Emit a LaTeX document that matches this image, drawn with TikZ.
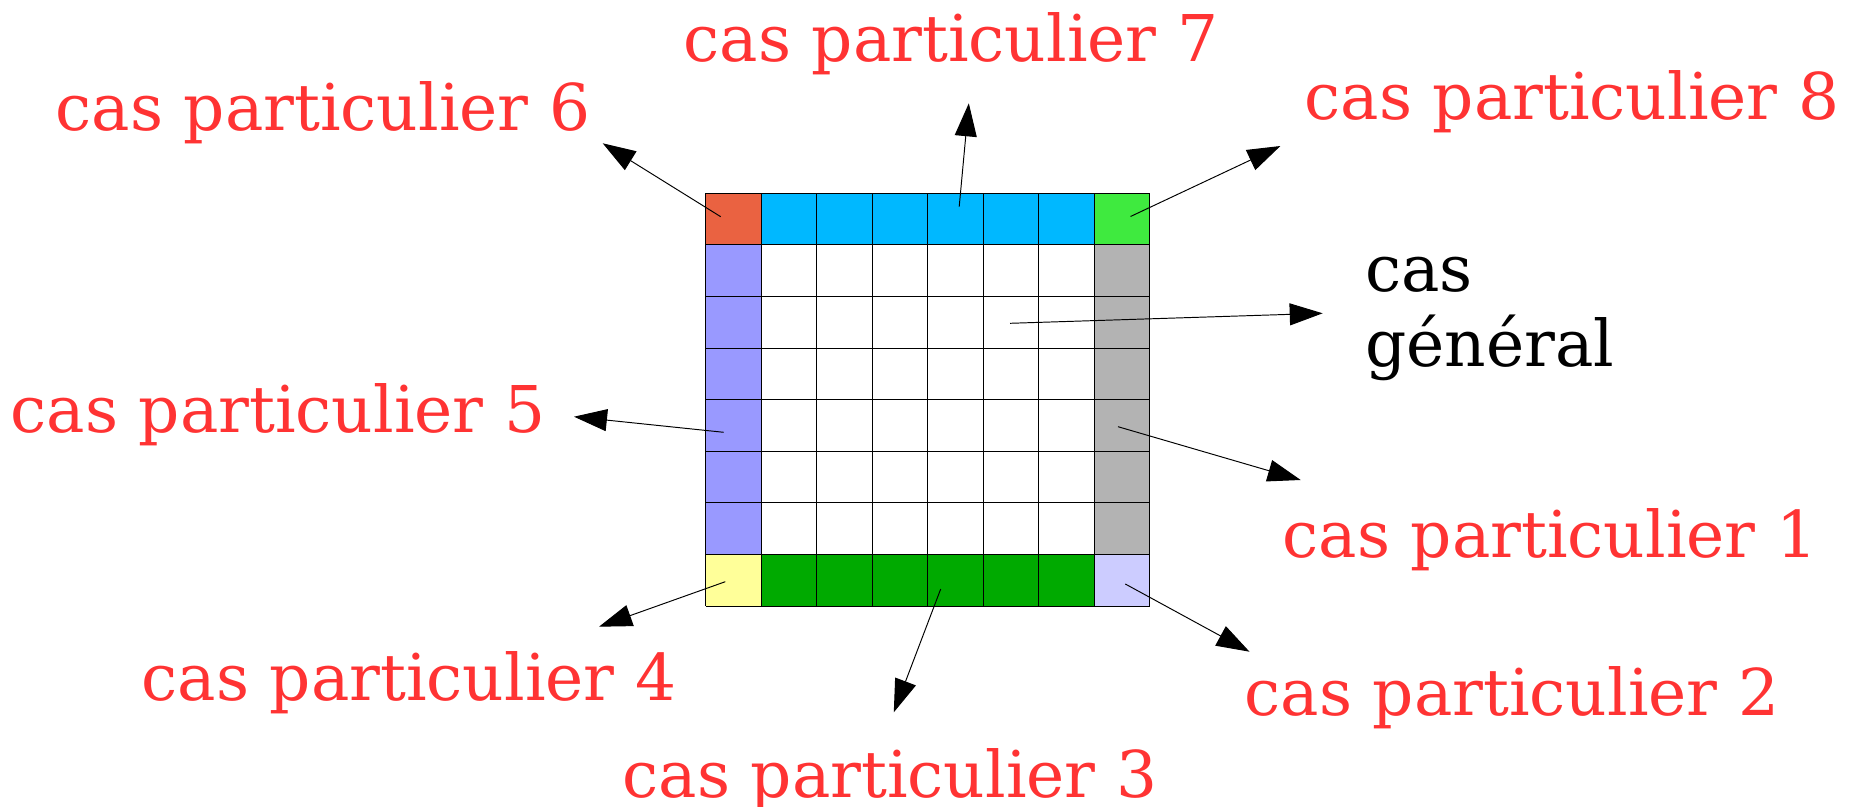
\documentclass[tikz,border=0pt]{standalone}
\usepackage{fontspec}
\setmainfont{DejaVu Serif}
\usetikzlibrary{arrows.meta}

\definecolor{rougecas}{HTML}{FF3333}
\definecolor{coinno}{HTML}{EA6241}
\definecolor{haut}{HTML}{00B8FF}
\definecolor{coinne}{HTML}{3FEA3F}
\definecolor{gauche}{HTML}{9999FF}
\definecolor{droite}{HTML}{B3B3B3}
\definecolor{coinso}{HTML}{FFFF99}
\definecolor{bas}{HTML}{00AA00}
\definecolor{coinse}{HTML}{CCCCFF}

\begin{document}
\begin{tikzpicture}[
  x=0.02cm, y=-0.02cm,
  casp/.style={text=rougecas, inner sep=0pt, anchor=base, font=\fontsize{36.7}{42.7}\selectfont},
  casg/.style={inner sep=0pt, anchor=base west, align=left, font=\fontsize{36.7}{42.7}\selectfont},
  trait/.style={draw=black, line width=0.5pt},
  fleche/.style={-{Triangle[length=0.66cm, width=0.44cm]}, line width=0.55pt}
]
  \useasboundingbox (0,0) rectangle (1849,807);

  % les bords colores
  \fill[coinno] (705.7,193.3) rectangle (761.2,244.9);
  \fill[haut]   (761.2,193.3) rectangle (1094.2,244.9);
  \fill[coinne] (1094.2,193.3) rectangle (1149.7,244.9);
  \fill[gauche] (705.7,244.9) rectangle (761.2,554.5);
  \fill[droite] (1094.2,244.9) rectangle (1149.7,554.5);
  \fill[coinso] (705.7,554.5) rectangle (761.2,606.1);
  \fill[bas]    (761.2,554.5) rectangle (1094.2,606.1);
  \fill[coinse] (1094.2,554.5) rectangle (1149.7,606.1);

  % la grille 8x8
  \foreach \i in {0,...,8} {
    \draw[trait] ({705.7+55.5*\i},193.3) -- ({705.7+55.5*\i},606.1);
    \draw[trait] (705.7,{193.3+51.6*\i}) -- (1149.7,{193.3+51.6*\i});
  }

  \node[casp] (cp6) at (323,131) {cas particulier 6};
  \node[casp] (cp7) at (951,62) {cas particulier 7};
  \node[casp] (cp8) at (1572,120) {cas particulier 8};
  \node[casp] (cp5) at (278,432) {cas particulier 5};
  \node[casp] (cp1) at (1550,557) {cas particulier 1};
  \node[casp] (cp4) at (409,700) {cas particulier 4};
  \node[casp] (cp2) at (1512,715) {cas particulier 2};
  \node[casp] (cp3) at (890,797) {cas particulier 3};
  % ancre base = ligne du bas
  \node[casg] (general) at (1365,367) {cas\\général};

  \coordinate (d6) at (720.7,216.7);  \coordinate (f6) at (602.7,143.3);
  \coordinate (d7) at (959.2,206.7);  \coordinate (f7) at (968.8,103.3);
  \coordinate (d8) at (1130.5,216.5); \coordinate (f8) at (1280.4,146);
  \coordinate (dg) at (1010,323.3);   \coordinate (fg) at (1322.7,313.3);
  \coordinate (d5) at (723.7,432.3);  \coordinate (f5) at (574,416.7);
  \coordinate (d1) at (1118,426.7);   \coordinate (f1) at (1300.7,480);
  \coordinate (d4) at (725.3,581.7);  \coordinate (f4) at (599,626.7);
  \coordinate (d3) at (940.7,589);    \coordinate (f3) at (893.8,712.3);
  \coordinate (d2) at (1125.3,584);   \coordinate (f2) at (1249.5,651.7);

  \draw[fleche] (d6) -- (f6);
  \draw[fleche] (d7) -- (f7);
  \draw[fleche] (d8) -- (f8);
  \draw[fleche] (dg) -- (fg);
  \draw[fleche] (d5) -- (f5);
  \draw[fleche] (d1) -- (f1);
  \draw[fleche] (d4) -- (f4);
  \draw[fleche] (d3) -- (f3);
  \draw[fleche] (d2) -- (f2);
\end{tikzpicture}
\end{document}
